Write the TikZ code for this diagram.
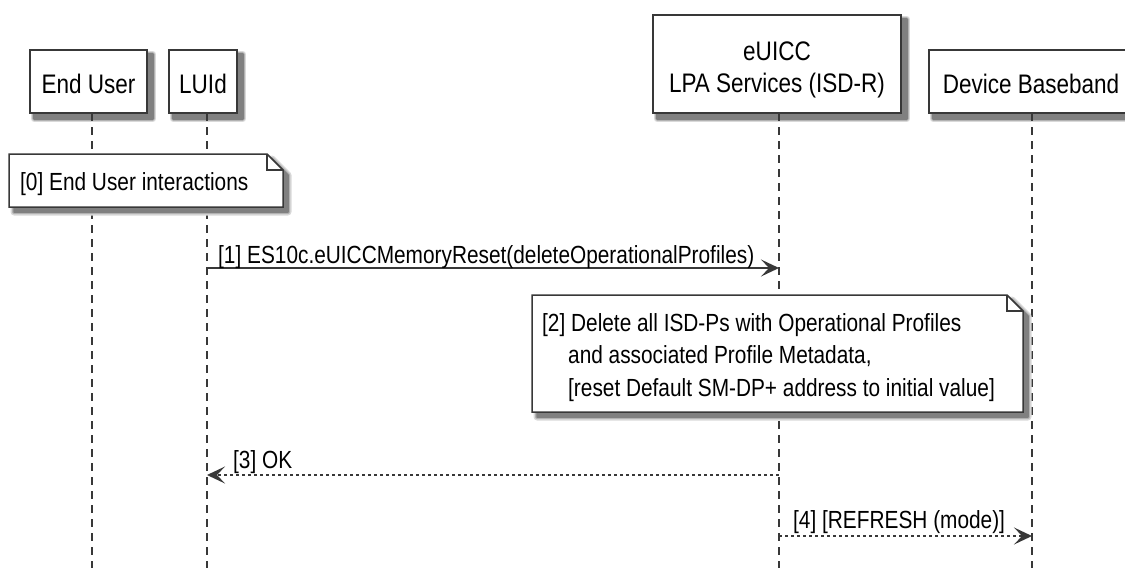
\documentclass[tikz,border=0pt]{standalone}
\usepackage{fontspec}
\setmainfont[FakeStretch=0.84]{Liberation Sans}
\usetikzlibrary{arrows.meta,backgrounds}
\definecolor{umlgray}{HTML}{383838}
\newcommand{\pfont}{\fontsize{26.8}{32}\selectfont}
\newcommand{\mfont}{\fontsize{24.8}{32.5}\selectfont}
\newcommand{\notebox}[4]{
\foreach \c/\w in {15/7,30/4,50/1.5}{
\filldraw[shadelayer,draw=black!\c,fill=black!\c,line width=\w pt](#1+5,#2+5)--(#3-11,#2+5)--(#3+5,#2+21)--(#3+5,#4+5)--(#1+5,#4+5)--cycle;}
\filldraw[notebody](#1,#2)--(#3-16,#2)--(#3,#2+16)--(#3,#4)--(#1,#4)--cycle;
\draw[notefold](#3-16,#2)--(#3-16,#2+16)--(#3,#2+16);
}
\newcommand{\boxshade}[1]{
\begin{scope}[on background layer]
\foreach \c/\w in {15/7,30/4,50/1.5}{
\filldraw[shadelayer,draw=black!\c,fill=black!\c,line width=\w pt]([shift={(5,5)}]#1.north west) rectangle ([shift={(5,5)}]#1.south east);}
\end{scope}
}
\tikzset{
 shadelayer/.style={line join=round},
 actor/.style={draw=umlgray,line width=1.8pt,fill=white,inner sep=0pt,font=\pfont},
 oneline/.style={minimum height=63pt,text height=23pt,text depth=0pt},
 notebody/.style={draw=umlgray,line width=1.5pt,fill=white},
 notefold/.style={draw=umlgray,line width=1.5pt},
 lifeline/.style={draw=umlgray,line width=1.2pt,dash pattern=on 8pt off 6pt},
 msg/.style={draw=umlgray,line width=1.4pt,-{Stealth[length=18pt,width=17pt,inset=8pt]}},
 reply/.style={msg,dash pattern=on 3pt off 3pt},
 lbl/.style={font=\mfont,anchor=base west,inner sep=0pt}
}
\begin{document}
\begin{tikzpicture}[x=1pt,y=-1pt]
\useasboundingbox (0,0) rectangle (1125,568);

\coordinate (eutop) at (92,113);
\coordinate (luitop) at (207,113);
\coordinate (isdrtop) at (779,113);
\coordinate (bbtop) at (1032,113);

\draw[lifeline] (eutop) -- (eutop |- 0,568);
\draw[lifeline] (luitop) -- (luitop |- 0,568);
\draw[lifeline] (isdrtop) -- (isdrtop |- 0,568);
\draw[lifeline] (bbtop) -- (bbtop |- 0,568);

\node[actor,oneline,minimum width=117pt] (eu) at (88.5,81.5) {End User};
\node[actor,oneline,minimum width=68pt] (lui) at (203,81.5) {LUId};
\node[actor,minimum width=248pt,minimum height=98pt,align=center,text height=56pt,text depth=0pt] (isdr) at (777,64) {eUICC\\LPA Services (ISD-R)};
\node[actor,oneline,minimum width=204pt] (bb) at (1031,81.5) {Device Baseband};
\boxshade{eu}
\boxshade{lui}
\boxshade{isdr}
\boxshade{bb}

\notebox{9}{154}{283}{207}
\node[lbl] (n0) at (20,190) {[0] End User interactions};

\draw[msg] (luitop |- 0,268) -- (isdrtop |- 0,268);
\node[lbl] (m1) at (218,263) {[1] ES10c.eUICCMemoryReset(deleteOperationalProfiles)};

\notebox{532}{295}{1023}{412}
\node[lbl,align=left] (n2) at (542,396) {[2] Delete all ISD-Ps with Operational Profiles\\
\hspace*{26pt}and associated Profile Metadata,\\
\hspace*{26pt}[reset Default SM-DP+ address to initial value]};

\draw[reply] (isdrtop |- 0,475) -- (luitop |- 0,475);
\node[lbl] (m3) at (233,468) {[3] OK};

\draw[reply] (isdrtop |- 0,536) -- (bbtop |- 0,536);
\node[lbl] (m4) at (793,528) {[4] [REFRESH (mode)]};

\end{tikzpicture}
\end{document}
